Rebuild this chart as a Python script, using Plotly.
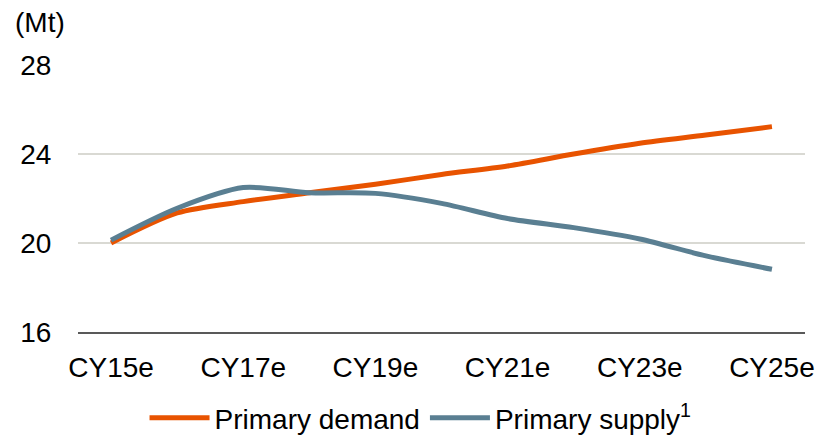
import plotly.graph_objects as go

years = ['CY15e', 'CY16e', 'CY17e', 'CY18e', 'CY19e', 'CY20e',
         'CY21e', 'CY22e', 'CY23e', 'CY24e', 'CY25e']
tick_labels = ['CY15e', 'CY17e', 'CY19e', 'CY21e', 'CY23e', 'CY25e']

demand = [20.0, 21.35, 21.86, 22.26, 22.64, 23.08, 23.46, 24.0, 24.48, 24.85, 25.23]
supply = [20.13, 21.56, 22.49, 22.26, 22.23, 21.78, 21.1, 20.69, 20.18, 19.42, 18.82]

orange = 'rgb(232,83,0)'
slate = 'rgb(90,127,146)'
font_name = 'Liberation Sans, Arial, sans-serif'

fig = go.Figure()
fig.add_trace(go.Scatter(x=years, y=demand, name='Primary demand', mode='lines',
                         line=dict(color=orange, width=5, shape='spline', smoothing=0.8)))
fig.add_trace(go.Scatter(x=years, y=supply, name='Primary supply<sup>1</sup>', mode='lines',
                         line=dict(color=slate, width=5, shape='spline', smoothing=0.8)))

# the page body is offset by 8px, the right/bottom 8px fall outside the window
fig.update_layout(
    width=833, height=435,
    margin=dict(l=70, r=36, t=57, b=111, autoexpand=False),
    paper_bgcolor='white', plot_bgcolor='white',
    font=dict(family=font_name, size=28, color='black'),
    showlegend=True,
    legend=dict(orientation='h', xref='container', x=0.1639, xanchor='left',
                yref='container', y=0.0575, yanchor='middle',
                font=dict(size=28), itemwidth=60, tracegroupgap=0),
    xaxis=dict(type='category', range=[-0.5, 10.5], tickvals=tick_labels,
               ticktext=tick_labels, showgrid=False, showline=True, automargin=False,
               linecolor='rgb(89,89,89)', linewidth=2, ticks='outside', ticklen=9,
               tickcolor='white', tickfont=dict(size=28)),
    yaxis=dict(range=[16, 28], tickvals=[16, 20, 24, 28], showgrid=True, automargin=False,
               gridcolor='rgb(217,217,211)', gridwidth=1.5, zeroline=False,
               showline=False, ticks='outside', ticklen=20, tickcolor='white',
               tickfont=dict(size=28)),
    annotations=[dict(text='(Mt)', xref='paper', yref='paper', x=-0.09, y=1.161,
                      xanchor='left', yanchor='middle', showarrow=False,
                      font=dict(size=28))],
)

fig.write_html('out.html')
